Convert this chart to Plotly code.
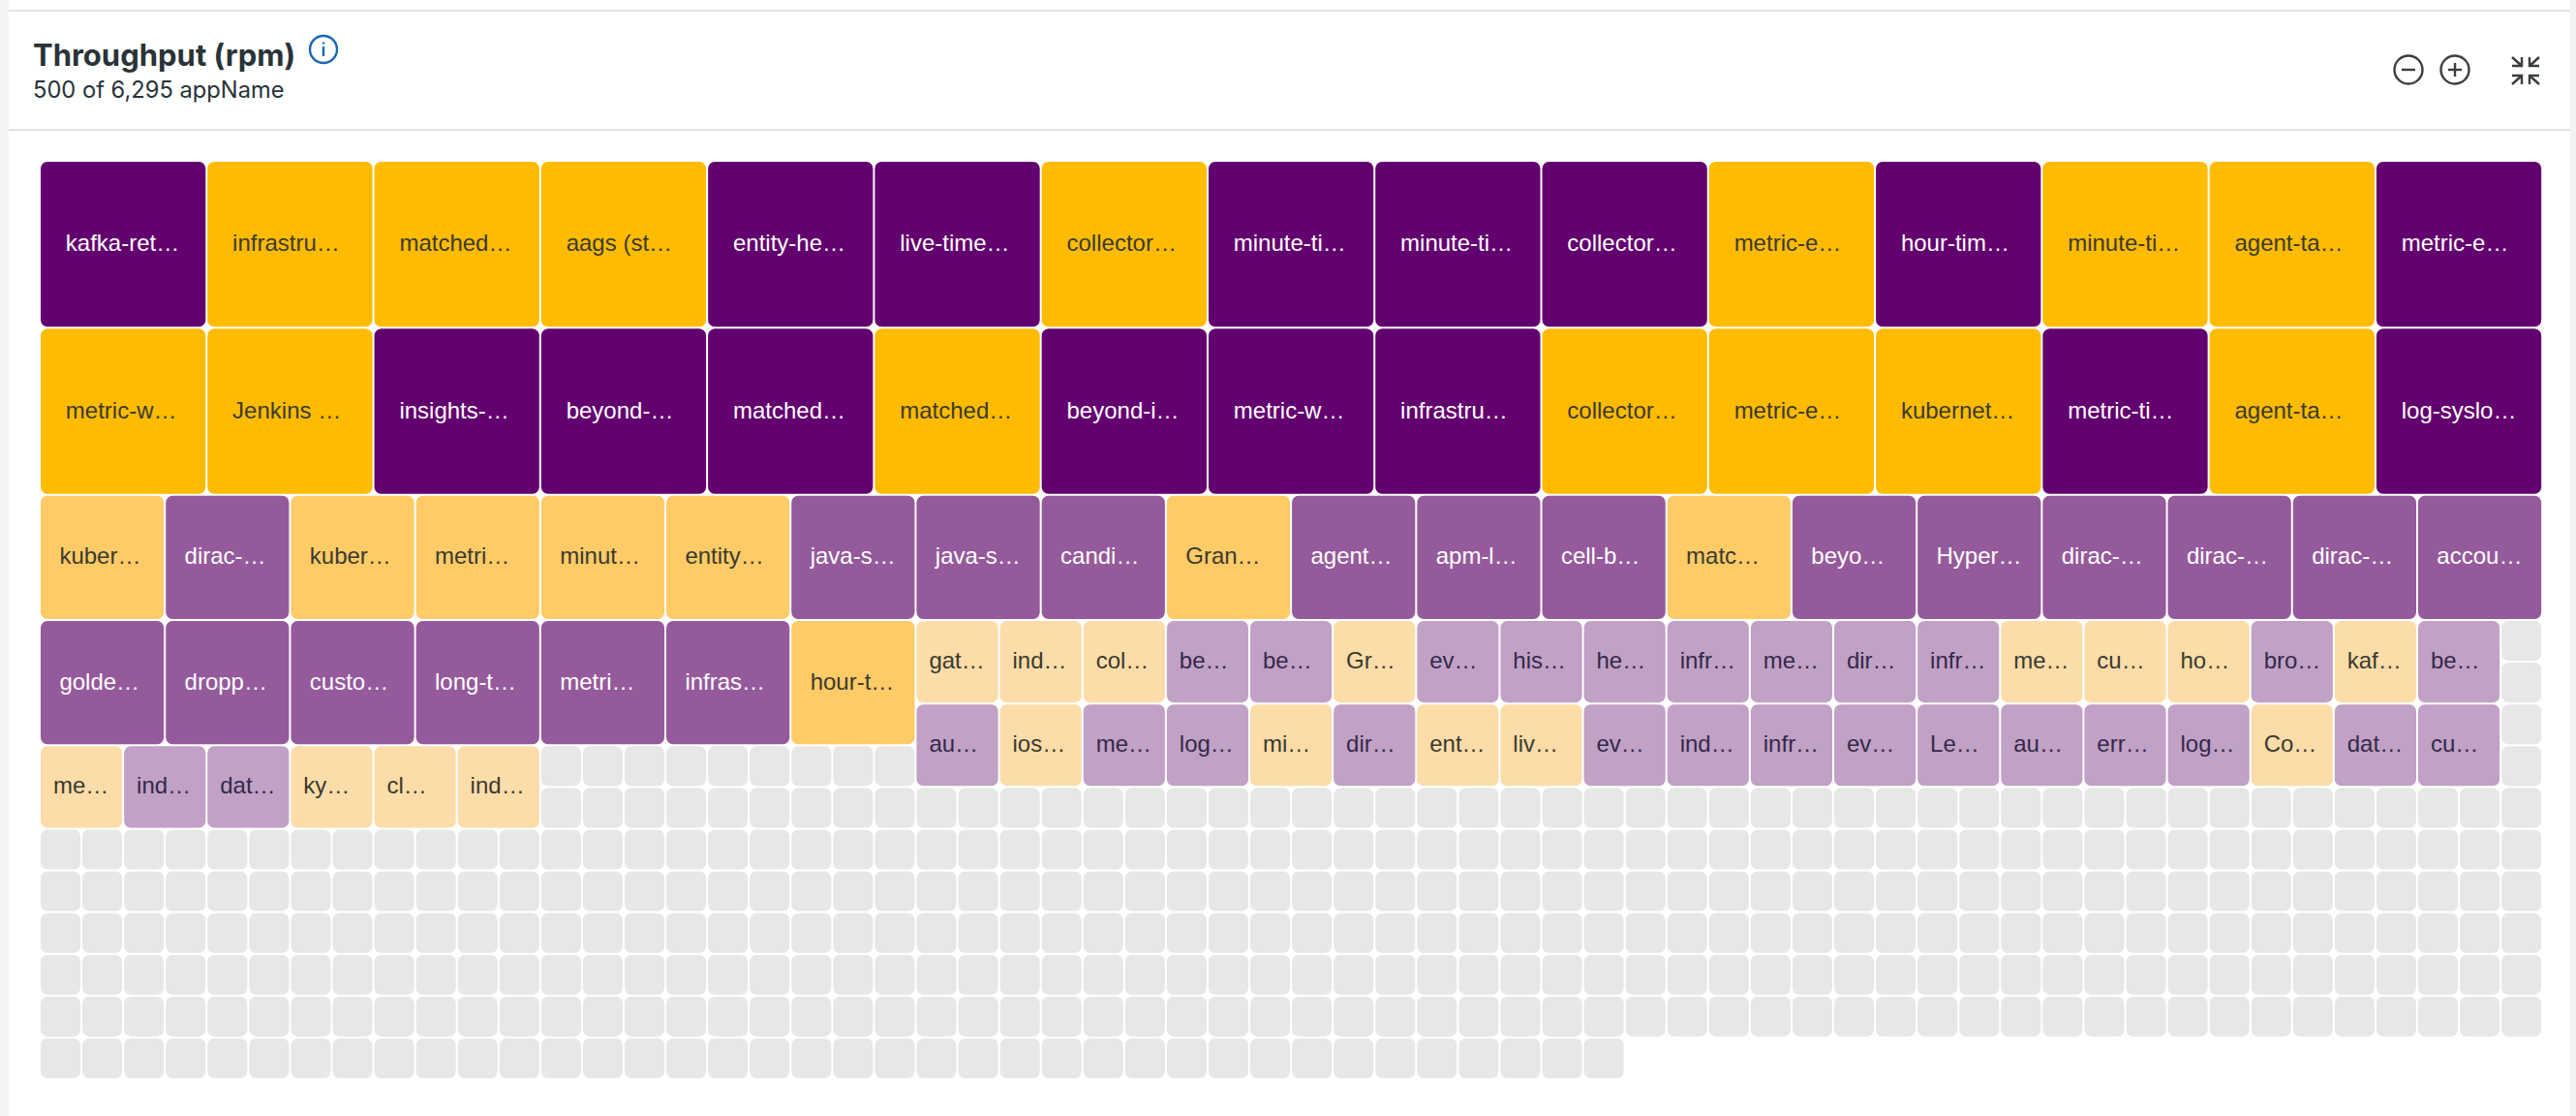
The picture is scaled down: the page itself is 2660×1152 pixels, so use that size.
import plotly.graph_objects as go

W, H = 2660, 1152

# tiles in the order the grid shows them, biggest first. B = purple, A = yellow
large_labels = ["kafka-ret…", "infrastru…", "matched…", "aags (st…", "entity-he…", "live-time…", "collector…", "minute-ti…",
                "minute-ti…", "collector…", "metric-e…", "hour-tim…", "minute-ti…", "agent-ta…", "metric-e…",
                "metric-w…", "Jenkins …", "insights-…", "beyond-…", "matched…", "matched…", "beyond-i…", "metric-w…",
                "infrastru…", "collector…", "metric-e…", "kubernet…", "metric-ti…", "agent-ta…", "log-syslo…"]
large_groups = list("BAAABBABBBABAAB" + "AABBBABBBAAABAB")

medium_labels = ["kuber…", "dirac-…", "kuber…", "metri…", "minut…", "entity…", "java-s…", "java-s…", "candi…", "Gran…",
                 "agent…", "apm-l…", "cell-b…", "matc…", "beyo…", "Hyper…", "dirac-…", "dirac-…", "dirac-…", "accou…",
                 "golde…", "dropp…", "custo…", "long-t…", "metri…", "infras…", "hour-t…"]
medium_groups = list("ABAAAABBBABBBABBBBBB" + "BBBBBBA")

small_labels = ["gat…", "ind…", "col…", "be…", "be…", "Gr…", "ev…", "his…", "he…", "infr…", "me…", "dir…", "infr…",
                "me…", "cu…", "ho…", "bro…", "kaf…", "be…",
                "au…", "ios…", "me…", "log…", "mi…", "dir…", "ent…", "liv…", "ev…", "ind…", "infr…", "ev…", "Le…",
                "au…", "err…", "log…", "Co…", "dat…", "cu…",
                "me…", "ind…", "dat…", "ky…", "cl…", "ind…"]
small_groups = list("AAABBABBBBBBBAAABAB" + "BABBABAABBBBBBBBABB" + "ABBAAA")

shown_total = 500

N_COLS = 60
UNIT_X, UNIT_Y = 43.07, 43.09
LEFT, TOP = 42, 167
GAP = 2
RADIUS = 7

colors = {
    (4, "B"): "#63006f", (4, "A"): "#ffbb00",
    (3, "B"): "#955a9c", (3, "A"): "#ffcb66",
    (2, "B"): "#c1a1c5", (2, "A"): "#fcdca8",
    (1, "-"): "#e7e7e7",
}
text_colors = {
    (4, "B"): "#ffffff", (4, "A"): "#3a3a30",
    (3, "B"): "#ffffff", (3, "A"): "#3a3a30",
    (2, "B"): "#33294a", (2, "A"): "#3a3a30",
}

tiles = []
for labels, groups, span in [(large_labels, large_groups, 4), (medium_labels, medium_groups, 3), (small_labels, small_groups, 2)]:
    for label, group in zip(labels, groups):
        tiles.append((label, group, span))
n_empty = shown_total - len(tiles)
tiles += [("", "-", 1)] * n_empty

# first fit, scanning the grid row by row
taken = set()
def place(span):
    row = 0
    while True:
        for col in range(N_COLS - span + 1):
            cells = [(row + i, col + j) for i in range(span) for j in range(span)]
            if not any(c in taken for c in cells):
                taken.update(cells)
                return row, col
        row += 1

def rounded(col, row, span):
    # outline in grid units, corners as short polylines
    x0, x1 = col, col + span - GAP / UNIT_X
    y0, y1 = row, row + span - GAP / UNIT_Y
    rx, ry = RADIUS / UNIT_X, RADIUS / UNIT_Y
    k = [(0, 1), (0.08, 0.6), (0.29, 0.29), (0.6, 0.08), (1, 0)]
    xs, ys = [], []
    for a, b in k:
        xs.append(x0 + a * rx); ys.append(y0 + b * ry)
    for a, b in reversed(k):
        xs.append(x1 - a * rx); ys.append(y0 + b * ry)
    for a, b in k:
        xs.append(x1 - a * rx); ys.append(y1 - b * ry)
    for a, b in reversed(k):
        xs.append(x0 + a * rx); ys.append(y1 - b * ry)
    xs.append(xs[0]); ys.append(ys[0])
    return xs, ys

outline = {key: ([], []) for key in colors}
text_pts = {}
for label, group, span in tiles:
    row, col = place(span)
    xs, ys = rounded(col, row, span)
    outline[(span, group)][0].extend(xs + [None])
    outline[(span, group)][1].extend(ys + [None])
    if label:
        pts = text_pts.setdefault(text_colors[(span, group)], ([], [], []))
        pts[0].append(col + 0.15 * span)
        pts[1].append(row + span / 2)
        pts[2].append(label)

fig = go.Figure()
for key, (xs, ys) in outline.items():
    fig.add_trace(go.Scatter(x=xs, y=ys, mode="none", fill="toself", fillcolor=colors[key],
                             hoverinfo="skip", showlegend=False))
for color, (xs, ys, labels) in text_pts.items():
    fig.add_trace(go.Scatter(x=xs, y=ys, text=labels, mode="text", textposition="middle right",
                             textfont=dict(family="Liberation Sans", size=24, color=color),
                             hoverinfo="text", showlegend=False))

# page furniture is placed in pixels
def px(x): return x / W
def py(y): return 1 - y / H

shapes = []
def box(x0, y0, x1, y1, color):
    shapes.append(dict(type="rect", xref="paper", yref="paper", x0=px(x0), x1=px(x1), y0=py(y0), y1=py(y1),
                       fillcolor=color, line_width=0, layer="below"))
def circle(cx, cy, r, color, width=2.4):
    shapes.append(dict(type="circle", xref="paper", yref="paper", x0=px(cx - r), x1=px(cx + r), y0=py(cy - r), y1=py(cy + r),
                       line=dict(color=color, width=width)))
def stroke(points, color, width=2.4):
    d = "M " + " L ".join(f"{px(x):.5f},{py(y):.5f}" for x, y in points)
    shapes.append(dict(type="path", xref="paper", yref="paper", path=d, line=dict(color=color, width=width)))

box(0, 0, 9, H, "#f3f3f3")
box(2654, 0, W, H, "#f3f3f3")
box(9, 10, 2654, 12, "#e2e2e2")
box(9, 133, 2654, 135, "#e2e2e2")

# info icon
circle(334, 51, 14, "#1a66b8")
stroke([(334, 48), (334, 58)], "#1a66b8")
stroke([(334, 43.5), (334, 45.5)], "#1a66b8")

# zoom buttons
circle(2487, 72, 14.5, "#3a3d40")
stroke([(2480, 72), (2494, 72)], "#3a3d40")
circle(2535, 72, 14.5, "#3a3d40")
stroke([(2528, 72), (2542, 72)], "#3a3d40")
stroke([(2535, 65), (2535, 79)], "#3a3d40")

# collapse icon, four arrows pointing inward
cx, cy = 2608, 73
for sx in (-1, 1):
    for sy in (-1, 1):
        stroke([(cx + sx * 14, cy + sy * 14), (cx + sx * 4, cy + sy * 5)], "#3a3d40")
        stroke([(cx + sx * 14, cy + sy * 5), (cx + sx * 4, cy + sy * 5), (cx + sx * 4, cy + sy * 14)], "#3a3d40")

annotations = [
    dict(text="<b>Throughput (rpm)</b>", x=px(32), y=py(56), xref="paper", yref="paper", xanchor="left", yanchor="middle",
         showarrow=False, font=dict(family="Inter", size=31, color="#293338")),
    dict(text="500 of 6,295 appName", x=px(32), y=py(93), xref="paper", yref="paper", xanchor="left", yanchor="middle",
         showarrow=False, font=dict(family="Inter", size=23.7, color="#293338")),
]

fig.update_layout(
    width=W, height=H, margin=dict(l=0, r=0, t=0, b=0),
    paper_bgcolor="white", plot_bgcolor="white",
    xaxis=dict(range=[-LEFT / UNIT_X, (W - LEFT) / UNIT_X], visible=False),
    yaxis=dict(range=[(H - TOP) / UNIT_Y, -TOP / UNIT_Y], visible=False),
    shapes=shapes, annotations=annotations, showlegend=False,
)
fig.write_html("out.html", config={"displayModeBar": False},
               post_script="document.body.style.margin='0';document.body.style.overflow='hidden';")
